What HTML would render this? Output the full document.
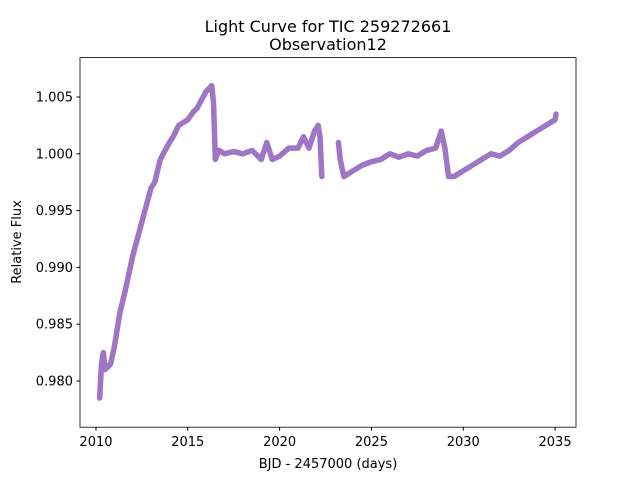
<!DOCTYPE html>
<html><head><meta charset="utf-8"><style>
body{margin:0;background:#fff;}
svg text{font-family:"DejaVu Sans","Liberation Sans",sans-serif;fill:#000;}
</style></head><body>
<svg width="640" height="480">
<rect width="640" height="480" fill="#fff"/>
<g id="marks"></g>
<rect x="80" y="57.6" width="496" height="369.6" fill="none" stroke="#000" stroke-width="0.8"/>
<g id="xt"></g>
<g id="yt"></g>
<text x="328" y="32" text-anchor="middle" font-size="16">Light Curve for TIC 259272661</text>
<text x="328" y="50" text-anchor="middle" font-size="16">Observation12</text>
<text x="328" y="468" text-anchor="middle" font-size="13">BJD - 2457000 (days)</text>
<text x="21" y="242" text-anchor="middle" font-size="13" transform="rotate(-90 21 242)">Relative Flux</text>
</svg>
<script>
const seg1T=[2010.2,2010.3,2010.4,2010.5,2010.8,2011,2011.3,2011.6,2012,2012.5,2013,2013.2,2013.5,2014,2014.2,2014.5,2015,2015.3,2015.5,2016,2016.3,2016.4,2016.5,2016.7,2017,2017.5,2018,2018.5,2019,2019.3,2019.6,2020,2020.5,2021,2021.3,2021.6,2021.9,2022.1,2022.2,2022.3];
const seg1F=[0.9785,0.9815,0.9825,0.981,0.9815,0.983,0.986,0.988,0.991,0.994,0.997,0.9975,0.9995,1.001,1.0015,1.0025,1.003,1.0037,1.004,1.0055,1.006,1.0045,0.9995,1.0003,1.0,1.0002,1.0,1.0003,0.9995,1.001,0.9995,0.9998,1.0005,1.0005,1.0015,1.0005,1.002,1.0025,1.0015,0.998];
const seg2T=[2023.2,2023.3,2023.5,2024,2024.5,2025,2025.5,2026,2026.5,2027,2027.5,2028,2028.5,2028.8,2029,2029.2,2029.5,2030,2030.5,2031,2031.5,2032,2032.5,2033,2033.5,2034,2034.5,2035,2035.05];
const seg2F=[1.001,0.9995,0.998,0.9985,0.999,0.9993,0.9995,1.0,0.9997,1.0,0.9998,1.0003,1.0005,1.002,1.0005,0.998,0.998,0.9985,0.999,0.9995,1.0,0.9998,1.0003,1.001,1.0015,1.002,1.0025,1.003,1.0035];
const xTicks=[2010,2015,2020,2025,2030,2035];
const yTicks=[0.980,0.985,0.990,0.995,1.000,1.005];
const X0=2009.13,X1=2036.14,Y0=0.97593,Y1=1.00847;
const sx=v=>80+(v-X0)/(X1-X0)*496;
const sy=v=>427.2-(v-Y0)/(Y1-Y0)*369.6;
const NS="http://www.w3.org/2000/svg";
const marks=document.getElementById('marks');
[[seg1T,seg1F],[seg2T,seg2F]].forEach(([T,F],k)=>{
  const p=document.createElementNS(NS,'polyline');
  p.setAttribute('points',T.map((t,i)=>sx(t)+','+sy(F[i])).join(' '));
  p.setAttribute('fill','none');p.setAttribute('stroke','#9467bd');p.setAttribute('stroke-opacity','0.9');
  p.setAttribute('stroke-width','5.5');p.setAttribute('stroke-linejoin','round');p.setAttribute('stroke-linecap','round');
  
  
  marks.appendChild(p);
});
const xt=document.getElementById('xt');
xTicks.forEach(v=>{
  const l=document.createElementNS(NS,'line');
  l.setAttribute('x1',sx(v));l.setAttribute('x2',sx(v));l.setAttribute('y1',427.2);l.setAttribute('y2',430.7);l.setAttribute('stroke','#000');
  
  
  xt.appendChild(l);
  const t=document.createElementNS(NS,'text');
  t.setAttribute('x',sx(v));t.setAttribute('y',446);t.setAttribute('text-anchor','middle');t.setAttribute('font-size','13');
  t.textContent=v;
  
  
  xt.appendChild(t);
});
const yt=document.getElementById('yt');
yTicks.forEach(v=>{
  const l=document.createElementNS(NS,'line');
  l.setAttribute('x1',76.5);l.setAttribute('x2',80);l.setAttribute('y1',sy(v));l.setAttribute('y2',sy(v));l.setAttribute('stroke','#000');
  
  
  yt.appendChild(l);
  const t=document.createElementNS(NS,'text');
  t.setAttribute('x',73);t.setAttribute('y',sy(v)+4.5);t.setAttribute('text-anchor','end');t.setAttribute('font-size','13');
  t.textContent=v.toFixed(3);
  
  
  yt.appendChild(t);
});
</script>
</body></html>
